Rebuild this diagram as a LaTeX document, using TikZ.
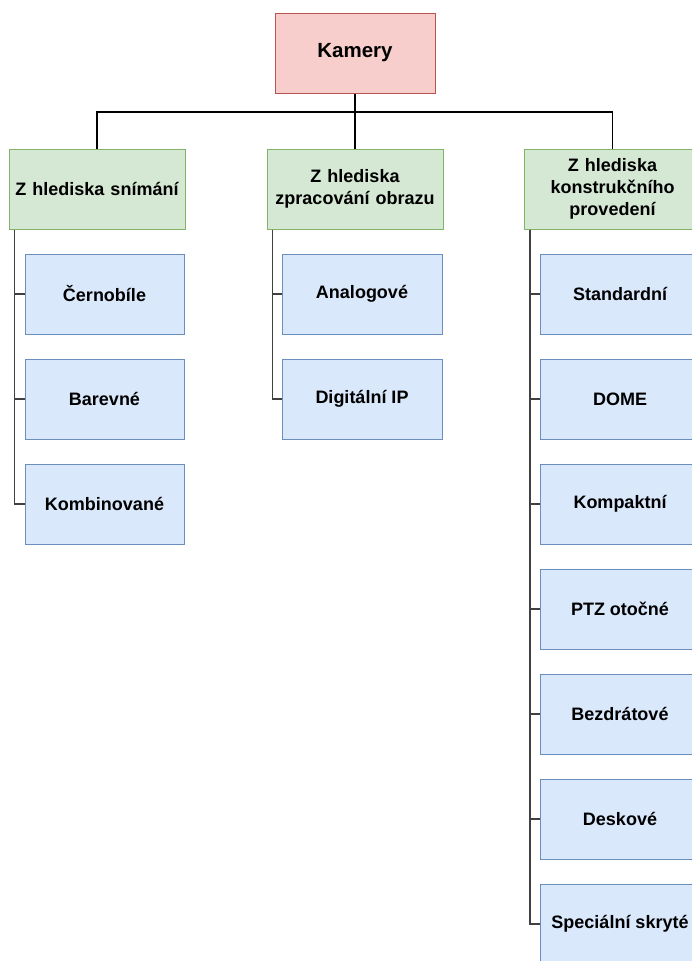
\documentclass[tikz,border=0pt]{standalone}
\usepackage{fontspec}
\setmainfont{Liberation Sans}
\definecolor{redfill}{HTML}{F8CECC}
\definecolor{redline}{HTML}{B85450}
\definecolor{greenfill}{HTML}{D5E8D4}
\definecolor{greenline}{HTML}{82B366}
\definecolor{bluefill}{HTML}{DAE8FC}
\definecolor{blueline}{HTML}{6C8EBF}
\tikzset{
  box/.style={draw, line width=1pt, inner sep=2pt, align=center, font=\fontsize{18}{22}\selectfont\bfseries},
  rootbox/.style={box, fill=redfill, draw=redline, minimum width=160pt, minimum height=80pt, font=\fontsize{20.5}{24}\selectfont\bfseries},
  catbox/.style={box, fill=greenfill, draw=greenline, minimum width=175pt, minimum height=80pt, text width=172pt},
  leafbox/.style={box, fill=bluefill, draw=blueline, minimum width=160pt, minimum height=80pt},
  conn/.style={draw=black, line width=1.5pt},
  tree/.style={draw=black!75, line width=1.3pt}
}
\begin{document}
\begin{tikzpicture}[x=1pt,y=-1pt]
\useasboundingbox (0,0) rectangle (692,961);
\node[rootbox] (root) at (355,53) {Kamery};
\node[catbox, minimum width=174pt] (g1) at (97,189) {Z hlediska snímání};
\node[catbox] (g2) at (355,189) {Z hlediska\\zpracování obrazu};
\node[catbox] (g3) at (612.5,189) {Z hlediska\\konstrukčního\\provedení};
\node[leafbox, minimum width=159pt] (a1) at (104.5,294) {Černobíle};
\node[leafbox, minimum width=159pt] (a2) at (104.5,399) {Barevné};
\node[leafbox, minimum width=159pt] (a3) at (104.5,504) {Kombinované};
\node[leafbox] (b1) at (362,294) {Analogové};
\node[leafbox] (b2) at (362,399) {Digitální IP};
\node[leafbox] (c1) at (620,294) {Standardní};
\node[leafbox] (c2) at (620,399) {DOME};
\node[leafbox] (c3) at (620,504) {Kompaktní};
\node[leafbox] (c4) at (620,609) {PTZ otočné};
\node[leafbox] (c5) at (620,714) {Bezdrátové};
\node[leafbox] (c6) at (620,819) {Deskové};
\node[leafbox] (c7) at (620,924) {Speciální skryté};
\coordinate (bus) at (355,112);
\draw[conn] (root.south) -- (g2.north);
\draw[conn] (g1.north) |- (bus);
\draw[conn] (g3.north) |- (bus);
\foreach \c in {a1,a2,a3} \draw[tree] ([xshift=6pt]g1.south west) |- (\c.west);
\foreach \c in {b1,b2} \draw[tree] ([xshift=6pt]g2.south west) |- (\c.west);
\foreach \c in {c1,c2,c3,c4,c5,c6,c7} \draw[tree] ([xshift=6pt]g3.south west) |- (\c.west);
\end{tikzpicture}
\end{document}
